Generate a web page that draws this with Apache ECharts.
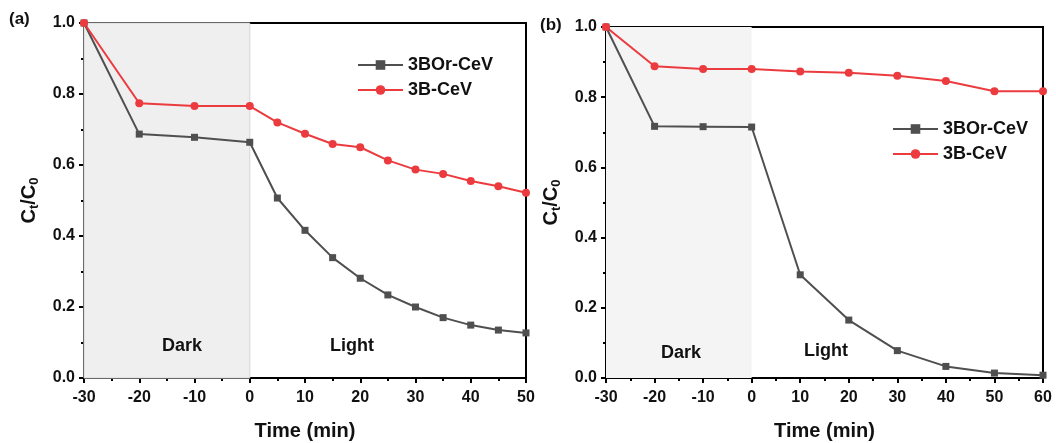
<!DOCTYPE html>
<html>
<head>
<meta charset="utf-8">
<script src="https://cdn.jsdelivr.net/npm/echarts@6/dist/echarts.min.js"></script>
<style>
  html, body { margin: 0; padding: 0; background: #fff; }
  #chart { width: 1056px; height: 443px; }
</style>
</head>
<body>
<div id="chart"></div>
<script>
// panel (a)
var timeA = [-30, -20, -10, 0, 5, 10, 15, 20, 25, 30, 35, 40, 45, 50]
var borA = [1.0, 0.687, 0.678, 0.664, 0.507, 0.416, 0.339, 0.281, 0.234, 0.200, 0.170, 0.149, 0.135, 0.127]
var bA = [1.0, 0.774, 0.766, 0.766, 0.720, 0.688, 0.659, 0.650, 0.613, 0.587, 0.575, 0.555, 0.540, 0.522]
// panel (b)
var timeB = [-30, -20, -10, 0, 10, 20, 30, 40, 50, 60]
var borB = [1.0, 0.717, 0.716, 0.715, 0.294, 0.165, 0.078, 0.033, 0.014, 0.008]
var bB = [1.0, 0.888, 0.880, 0.880, 0.873, 0.870, 0.861, 0.846, 0.817, 0.817]

var seriesNames = ['3BOr-CeV', '3B-CeV']

var font = 'Liberation Sans, Arial, sans-serif'
var gray = '#4f4f4f'
var red = '#ec3b3f'

function pairs (xs, ys) {
  return xs.map(function (x, i) { return [x, ys[i]] })
}

function xAxisOpt (idx, max) {
  return {
    type: 'value',
    gridIndex: idx,
    min: -30,
    max: max,
    interval: 10,
    name: 'Time (min)',
    nameLocation: 'middle',
    nameGap: 43,
    nameTextStyle: { fontFamily: font, fontWeight: 'bold', fontSize: 20, color: '#111' },
    axisLine: { onZero: false, lineStyle: { color: '#000', width: 2 } },
    axisTick: { inside: false, length: 5, lineStyle: { color: '#000', width: 2 } },
    minorTick: { show: true, splitNumber: 2, length: 3, lineStyle: { color: '#000', width: 2 } },
    axisLabel: { margin: 12, fontFamily: font, fontWeight: 'bold', fontSize: 16, color: '#111' },
    splitLine: { show: false }
  }
}

function yAxisOpt (idx) {
  return {
    type: 'value',
    gridIndex: idx,
    min: 0,
    max: 1,
    interval: 0.2,
    name: 'C{sub|t}/C{sub|0}',
    nameLocation: 'middle',
    nameRotate: 90,
    nameGap: 43,
    nameTextStyle: {
      fontFamily: font, fontWeight: 'bold', fontSize: 20, color: '#111',
      rich: { sub: { fontFamily: font, fontWeight: 'bold', fontSize: 13, color: '#111', verticalAlign: 'bottom', padding: [10, 0, 0, 0] } }
    },
    axisLine: { onZero: false, lineStyle: { color: '#000', width: 2 } },
    axisTick: { inside: false, length: 5, lineStyle: { color: '#000', width: 2 } },
    minorTick: { show: true, splitNumber: 2, length: 3, lineStyle: { color: '#000', width: 2 } },
    axisLabel: {
      margin: 9, fontFamily: font, fontWeight: 'bold', fontSize: 16, color: '#111',
      formatter: function (v) { return v.toFixed(1) }
    },
    splitLine: { show: false }
  }
}

function lineSeries (name, idx, data, color, symbol, size, extra) {
  var s = {
    name: name,
    type: 'line',
    xAxisIndex: idx,
    yAxisIndex: idx,
    data: data,
    symbol: symbol,
    symbolSize: size,
    lineStyle: { color: color, width: 2 },
    itemStyle: { color: color },
    z: 3
  }
  if (extra) {
    for (var k in extra) s[k] = extra[k]
  }
  return s
}

var chart = echarts.init(document.getElementById('chart'))
chart.setOption({
  animation: false,
  grid: [
    { left: 84, right: 530, top: 23, bottom: 65, outerBoundsMode: 'none', containLabel: false, show: true, borderColor: '#000', borderWidth: 2 },
    { left: 606, right: 13, top: 27, bottom: 65, outerBoundsMode: 'none', containLabel: false, show: true, borderColor: '#000', borderWidth: 2 }
  ],
  legend: [
    {
      data: seriesNames, orient: 'vertical', left: 352, top: 51, itemWidth: 45, itemHeight: 12, itemGap: 7,
      textStyle: { fontFamily: font, fontWeight: 'bold', fontSize: 18, color: '#111' }
    },
    {
      data: seriesNames, orient: 'vertical', left: 887, top: 115, itemWidth: 45, itemHeight: 12, itemGap: 7,
      textStyle: { fontFamily: font, fontWeight: 'bold', fontSize: 18, color: '#111' }
    }
  ],
  xAxis: [xAxisOpt(0, 50), xAxisOpt(1, 60)],
  yAxis: [yAxisOpt(0), yAxisOpt(1)],
  graphic: [
    { type: 'text', z: 100, left: 9, top: 11, style: { text: '(a)', font: 'bold 17px ' + font, fill: '#111' } },
    { type: 'text', z: 100, left: 540, top: 17, style: { text: '(b)', font: 'bold 17px ' + font, fill: '#111' } },
    { type: 'text', z: 100, left: 162, top: 337, style: { text: 'Dark', font: 'bold 18px ' + font, fill: '#111' } },
    { type: 'text', z: 100, left: 330, top: 337, style: { text: 'Light', font: 'bold 18px ' + font, fill: '#111' } },
    { type: 'text', z: 100, left: 661, top: 344, style: { text: 'Dark', font: 'bold 18px ' + font, fill: '#111' } },
    { type: 'text', z: 100, left: 804, top: 342, style: { text: 'Light', font: 'bold 18px ' + font, fill: '#111' } }
  ],
  series: [
    lineSeries(seriesNames[0], 0, pairs(timeA, borA), gray, 'rect', 7, {
      markArea: {
        silent: true,
        itemStyle: { color: '#efefef', borderColor: '#d4d4d4', borderWidth: 1 },
        data: [[{ xAxis: -30 }, { xAxis: 0 }]]
      }
    }),
    lineSeries(seriesNames[1], 0, pairs(timeA, bA), red, 'circle', 8),
    lineSeries(seriesNames[0], 1, pairs(timeB, borB), gray, 'rect', 7, {
      markArea: {
        silent: true,
        itemStyle: { color: '#f4f4f4', borderWidth: 0 },
        data: [[{ xAxis: -30 }, { xAxis: 0 }]]
      }
    }),
    lineSeries(seriesNames[1], 1, pairs(timeB, bB), red, 'circle', 8)
  ]
})
window.addEventListener('resize', chart.resize)
</script>
</body>
</html>
